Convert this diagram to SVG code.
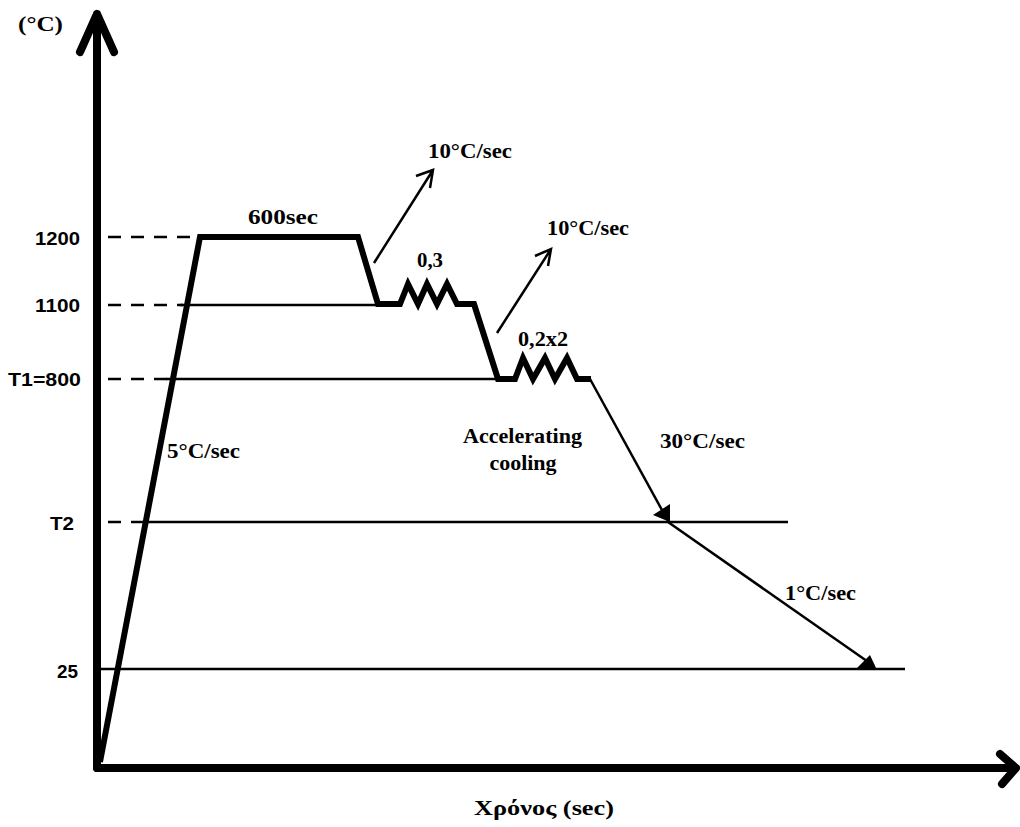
<svg xmlns="http://www.w3.org/2000/svg" width="1020" height="827" viewBox="0 0 1020 827">
<style>
.ax{fill:none;stroke:#000;stroke-width:8;stroke-linecap:round;stroke-linejoin:round}
.thick{fill:none;stroke:#000;stroke-width:6;stroke-linejoin:miter}
.thin{fill:none;stroke:#000;stroke-width:2.5}
.dash{fill:none;stroke:#000;stroke-width:2.5;stroke-dasharray:13 10}
.t{font-family:"Liberation Serif","Times New Roman",serif;font-weight:bold;font-size:22px;fill:#000}
.s{font-family:"Liberation Sans",Arial,sans-serif;font-weight:bold;font-size:19px;fill:#000}
</style>
<rect width="1020" height="827" fill="#fff"/>
<g id="axes">
<path class="ax" d="M97,768 V14 M80,52 L97,14 L114,52"/>
<path class="ax" d="M97,768 H1015 M1000,754 L1016,768 L1002,784"/>
</g>
<g id="levels">
<path class="dash" d="M108,237 H200"/>
<path class="dash" d="M108,305 H183"/><path class="thin" d="M180,305 H380"/>
<path class="dash" d="M108,379 H170"/><path class="thin" d="M166,379 H500"/>
<path class="dash" d="M108,522 H150"/><path class="thin" d="M146,522 H788"/>
<path class="thin" d="M100,669 H905"/>
</g>
<g id="curve">
<path class="thick" d="M100,762 L200,237 H358 L378,304 H400 L408,284 L418,304 L427,284 L437,304 L447,284 L457,304 H474 L498,379 H515 L523,358 L533,379 L545,358 L555,379 L567,358 L577,379 H591"/>
</g>
<g id="connectors">
<path class="thin" d="M374,263 L433,170 M416,176 L433,170 L430,188"/>
<path class="thin" d="M497,333 L551,249 M535,256 L551,249 L548,266"/>
<path class="thin" d="M590,379 L668,521"/>
<polygon points="653,515 670,504 670,522" fill="#000"/>
<path class="thin" d="M668,522 L874,666"/>
<polygon points="857,668 870,655 876,668" fill="#000"/>
</g>
<g id="labels">
<text class="t" x="18" y="31" textLength="45" lengthAdjust="spacingAndGlyphs">(°C)</text>
<text class="t" x="248" y="224" textLength="70" lengthAdjust="spacingAndGlyphs">600sec</text>
<text class="t" x="428" y="158" textLength="84" lengthAdjust="spacingAndGlyphs">10°C/sec</text>
<text class="t" x="547" y="235" textLength="82" lengthAdjust="spacingAndGlyphs">10°C/sec</text>
<text class="t" x="417" y="267" textLength="26" lengthAdjust="spacingAndGlyphs">0,3</text>
<text class="t" x="518" y="346" textLength="50" lengthAdjust="spacingAndGlyphs">0,2x2</text>
<text class="t" x="463" y="443" textLength="119" lengthAdjust="spacingAndGlyphs">Accelerating</text>
<text class="t" x="523" y="470" text-anchor="middle">cooling</text>
<text class="t" x="660" y="448" textLength="85" lengthAdjust="spacingAndGlyphs">30°C/sec</text>
<text class="t" x="167" y="458" textLength="73" lengthAdjust="spacingAndGlyphs">5°C/sec</text>
<text class="t" x="785" y="600" textLength="71" lengthAdjust="spacingAndGlyphs">1°C/sec</text>
<text class="t" x="474" y="815" textLength="140" lengthAdjust="spacingAndGlyphs">Χρόνος (sec)</text>
<text class="s" x="35" y="245" textLength="45" lengthAdjust="spacingAndGlyphs">1200</text>
<text class="s" x="35" y="312" textLength="45" lengthAdjust="spacingAndGlyphs">1100</text>
<text class="s" x="8" y="386" textLength="73" lengthAdjust="spacingAndGlyphs">T1=800</text>
<text class="s" x="50" y="530" textLength="24" lengthAdjust="spacingAndGlyphs">T2</text>
<text class="s" x="57" y="678" textLength="21" lengthAdjust="spacingAndGlyphs">25</text>
</g>
</svg>
